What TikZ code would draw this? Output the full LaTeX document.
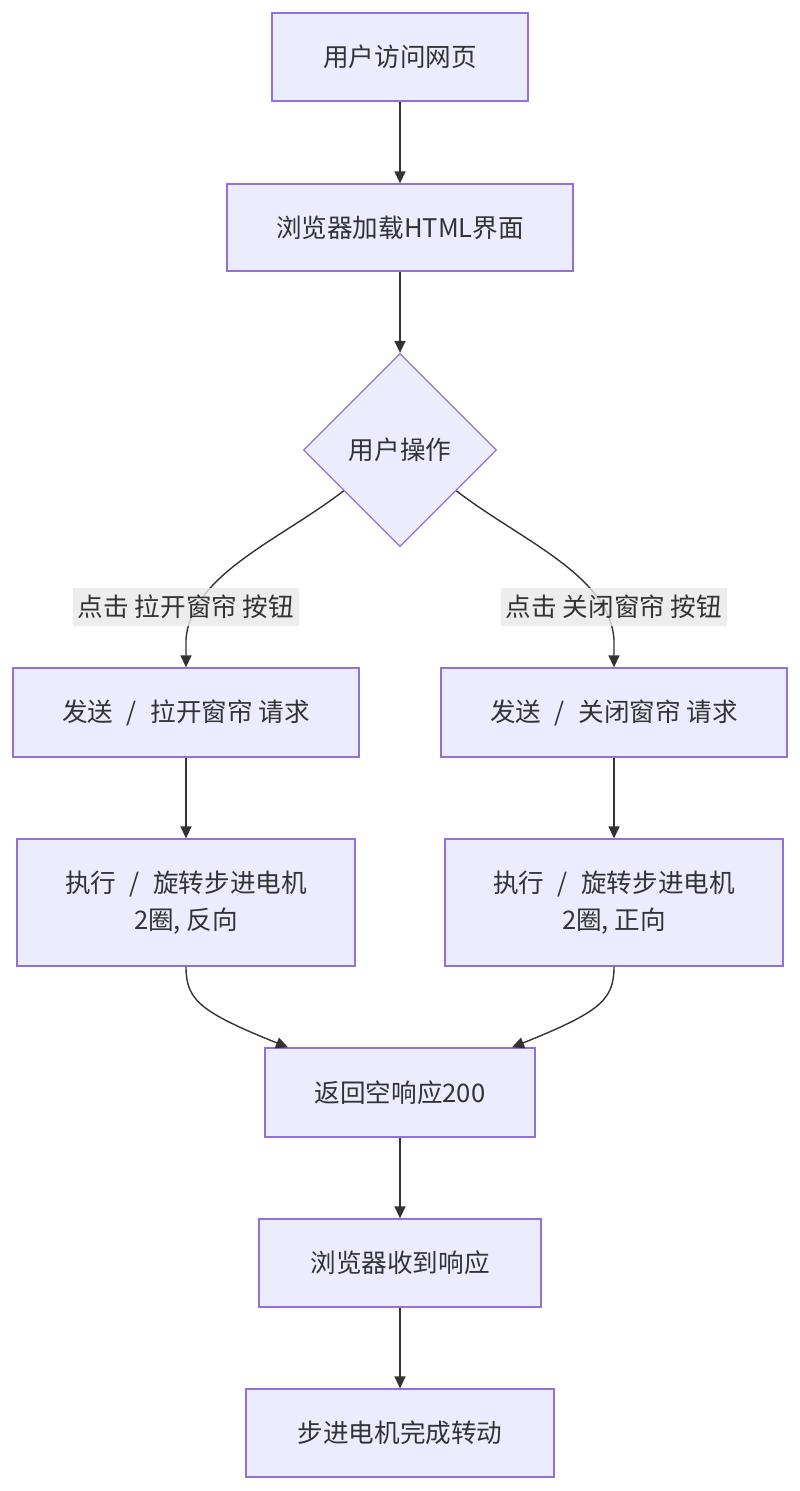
\documentclass[tikz,border=0pt]{standalone}
\usepackage{fontspec}
\setmainfont{Noto Sans CJK SC}
\usetikzlibrary{shapes.geometric,arrows.meta,calc}
\definecolor{nodefill}{HTML}{ECECFF}
\definecolor{nodeline}{HTML}{9370DB}
\definecolor{edgecol}{HTML}{333333}
\definecolor{lblbg}{HTML}{E8E8E8}
\newcommand\fsl{\makebox[1em]{/}}
\begin{document}
\begin{tikzpicture}[x=1pt,y=-1pt,
 txt/.style={text=edgecol, font=\fontsize{25.6}{37}\selectfont},
 box/.style={txt, draw=nodeline, fill=nodefill, line width=1.3pt, align=center, inner sep=0pt},
 dec/.style={txt, diamond, aspect=1, draw=nodeline, fill=nodefill, line width=1.3pt, inner sep=0pt, minimum size=193pt},
 arr/.style={draw=edgecol, line width=1.4pt, -{Triangle[length=12pt,width=11pt]}},
 lbl/.style={txt, fill=lblbg, fill opacity=0.8, text opacity=1, inner xsep=5pt, inner ysep=0pt, minimum height=38pt}
]
\useasboundingbox (0,0) rectangle (800,1491);
\node[box, minimum width=256pt, minimum height=88pt] (n1) at (400,57) {用户访问网页};
\node[box, minimum width=346pt, minimum height=87pt] (n2) at (400,227.5) {浏览器加载HTML界面};
\node[dec] (d) at (400,450) {用户操作};
\node[box, minimum width=346pt, minimum height=89pt] (l1) at (186,712.5) {发送 \fsl{} 拉开窗帘 请求};
\node[box, minimum width=346pt, minimum height=89pt] (r1) at (614,712.5) {发送 \fsl{} 关闭窗帘 请求};
\node[box, minimum width=338pt, minimum height=127pt] (l2) at (186,902.5) {执行 \fsl{} 旋转步进电机\\2圈, 反向};
\node[box, minimum width=338pt, minimum height=127pt] (r2) at (614,902.5) {执行 \fsl{} 旋转步进电机\\2圈, 正向};
\node[box, minimum width=270pt, minimum height=89pt] (n3) at (400,1092.5) {返回空响应200};
\node[box, minimum width=282pt, minimum height=88pt] (n4) at (400,1263) {浏览器收到响应};
\node[box, minimum width=308pt, minimum height=88pt] (n5) at (400,1433) {步进电机完成转动};

\coordinate (dl) at ($(d.west)!0.42!(d.south)$);
\coordinate (dr) at ($(d.east)!0.42!(d.south)$);
\coordinate (n3l) at ($(n3.north)+(-112,0)$);
\coordinate (n3r) at ($(n3.north)+(112,0)$);

\draw[arr] (n1) -- (n2);
\draw[arr] (n2) -- (d);
\draw[arr] (dl) .. controls (280,540) and (190,575) .. (186,640) -- (l1.north);
\draw[arr] (dr) .. controls (520,540) and (610,575) .. (614,640) -- (r1.north);
\draw[arr] (l1) -- (l2);
\draw[arr] (r1) -- (r2);
\draw[arr] (l2.south) .. controls (186,1000) and (200,1012) .. (n3l);
\draw[arr] (r2.south) .. controls (614,1000) and (600,1012) .. (n3r);
\draw[arr] (n3) -- (n4);
\draw[arr] (n4) -- (n5);

\node[lbl] (la) at (186,607) {点击 拉开窗帘 按钮};
\node[lbl] (ra) at (614,607) {点击 关闭窗帘 按钮};
\end{tikzpicture}
\end{document}
